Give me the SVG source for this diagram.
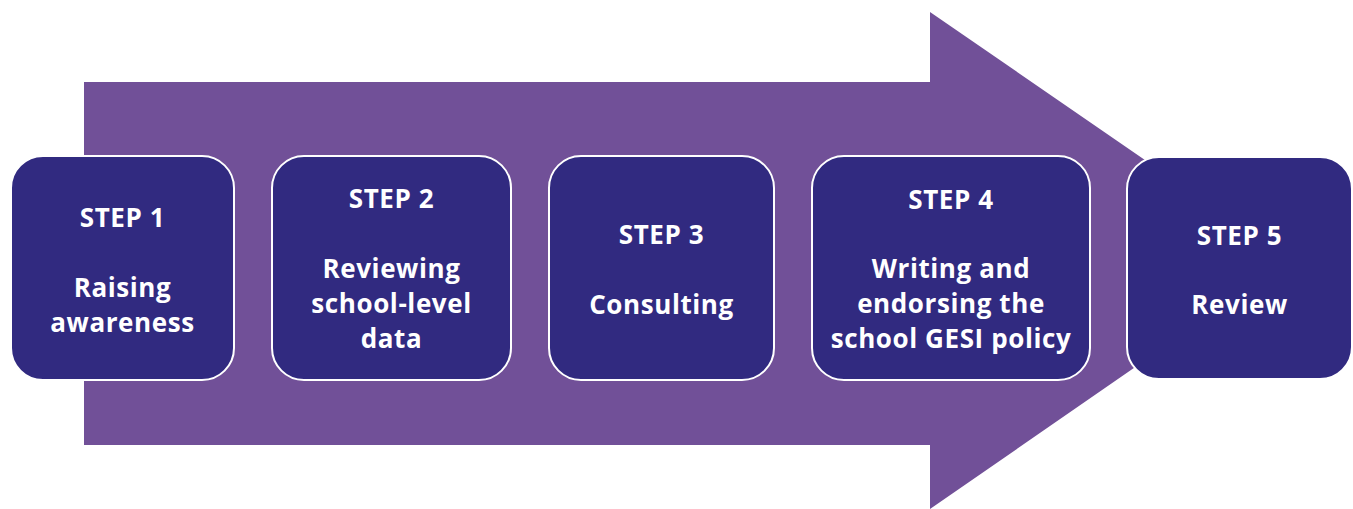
<svg xmlns="http://www.w3.org/2000/svg" width="1353" height="509" viewBox="0 0 1353 509">
<style>
.box{fill:#312A80;stroke:#FFFFFF;stroke-width:2}
.t{fill:#FFFFFF;font-family:"Open Sans","Liberation Sans",sans-serif;font-weight:bold;font-size:26px;letter-spacing:0.6px;text-anchor:middle}
</style>
<rect width="1353" height="509" fill="#FFFFFF"/>
<g id="connectors">
<path d="M84 82 H930 V12 L1290 260 L930 509 V445 H84 Z" fill="#715098"/>
</g>
<g id="step1">
<rect class="box" x="11" y="156" width="223" height="224" rx="32"/>
<text class="t" x="122.5" y="227">STEP 1</text>
<text class="t" x="122.5" y="297">Raising</text>
<text class="t" x="122.5" y="332">awareness</text>
</g>
<g id="step2">
<rect class="box" x="272" y="156" width="239" height="224" rx="32"/>
<text class="t" x="391.5" y="208">STEP 2</text>
<text class="t" x="391.5" y="278">Reviewing</text>
<text class="t" x="391.5" y="313">school-level</text>
<text class="t" x="391.5" y="348">data</text>
</g>
<g id="step3">
<rect class="box" x="549" y="156" width="225" height="224" rx="32"/>
<text class="t" x="661.5" y="244">STEP 3</text>
<text class="t" x="661.5" y="314">Consulting</text>
</g>
<g id="step4">
<rect class="box" x="812" y="156" width="278" height="224" rx="32"/>
<text class="t" x="951" y="209">STEP 4</text>
<text class="t" x="951" y="278">Writing and</text>
<text class="t" x="951" y="313">endorsing the</text>
<text class="t" x="951" y="348">school GESI policy</text>
</g>
<g id="step5">
<rect class="box" x="1127" y="157" width="225" height="222" rx="32"/>
<text class="t" x="1239.5" y="245">STEP 5</text>
<text class="t" x="1239.5" y="314">Review</text>
</g>
</svg>
